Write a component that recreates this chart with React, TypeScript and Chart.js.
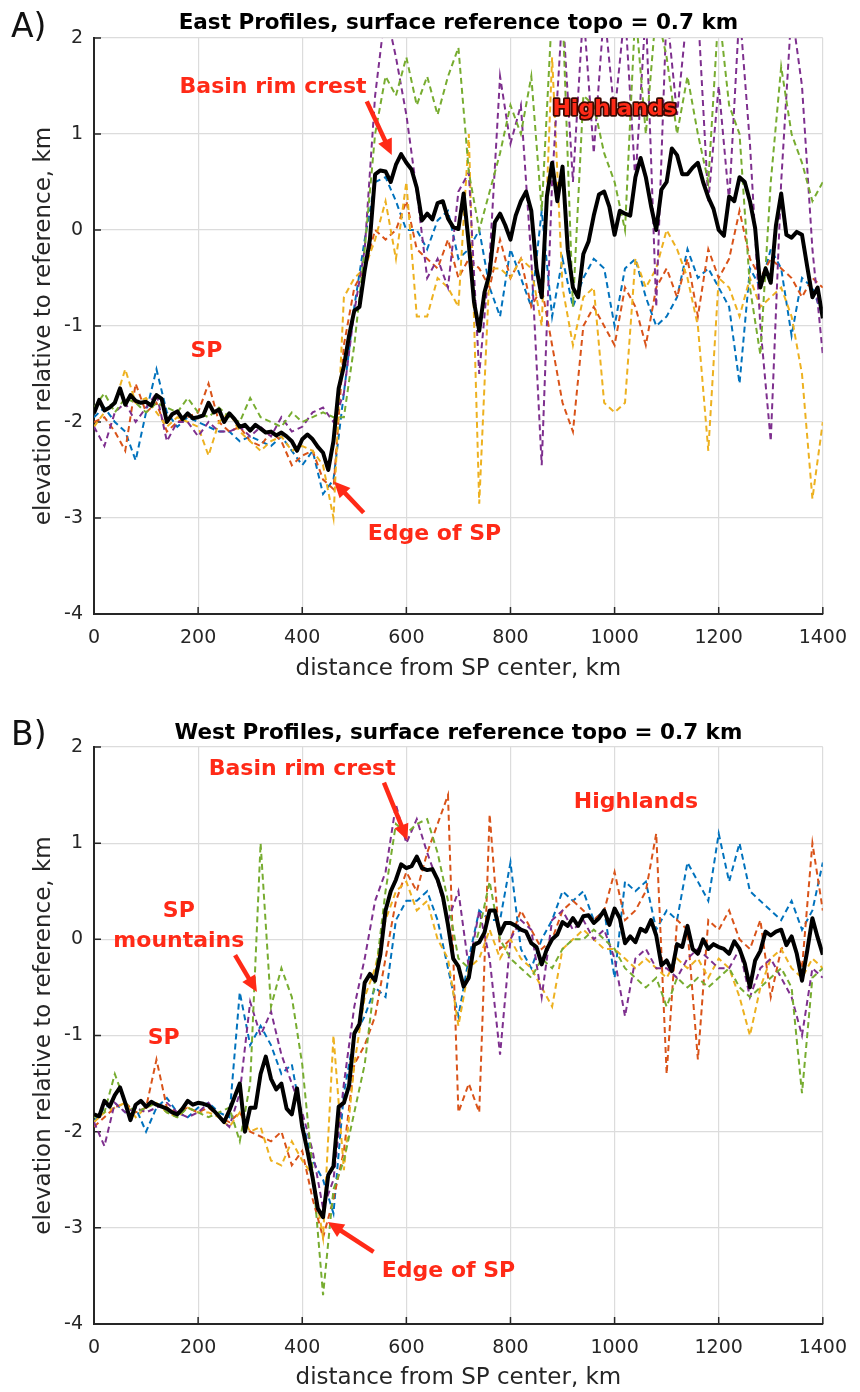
import React, { useEffect, useRef } from 'react';
import { Chart, registerables } from 'chart.js';
Chart.register(...registerables);

// ---------- distances (km) ----------
const DIST_10 = [
  0,10,20,30,40,50,60,70,80,90,100,110,120,130,140,150,160,170,180,190,
  200,210,220,230,240,250,260,270,280,290,300,310,320,330,340,350,360,370,380,390,
  400,410,420,430,440,450,460,470,480,490,500,510,520,530,540,550,560,570,580,590,
  600,610,620,630,640,650,660,670,680,690,700,710,720,730,740,750,760,770,780,790,
  800,810,820,830,840,850,860,870,880,890,900,910,920,930,940,950,960,970,980,990,
  1000,1010,1020,1030,1040,1050,1060,1070,1080,1090,1100,1110,1120,1130,1140,1150,1160,1170,1180,1190,
  1200,1210,1220,1230,1240,1250,1260,1270,1280,1290,1300,1310,1320,1330,1340,1350,1360,1370,1380,1390,
  1400,
];
const DIST_20 = [
  0,20,40,60,80,100,120,140,160,180,200,220,240,260,280,300,320,340,360,380,
  400,420,440,460,480,500,520,540,560,580,600,620,640,660,680,700,720,740,760,780,
  800,820,840,860,880,900,920,940,960,980,1000,1020,1040,1060,1080,1100,1120,1140,1160,1180,
  1200,1220,1240,1260,1280,1300,1320,1340,1360,1380,1400,
];

const X_TICKS = [0, 200, 400, 600, 800, 1000, 1200, 1400];
const Y_TICKS = [-4, -3, -2, -1, 0, 1, 2];

// ---------- Panel A (East) ----------
const EAST_MEAN = [
  -1.91,-1.77,-1.88,-1.85,-1.80,-1.65,-1.82,-1.72,-1.78,-1.80,
  -1.79,-1.83,-1.72,-1.76,-2.00,-1.92,-1.89,-1.97,-1.91,-1.96,
  -1.95,-1.93,-1.80,-1.90,-1.87,-2.00,-1.91,-1.97,-2.05,-2.03,
  -2.09,-2.03,-2.07,-2.11,-2.10,-2.14,-2.11,-2.15,-2.20,-2.30,
  -2.18,-2.13,-2.18,-2.26,-2.32,-2.50,-2.20,-1.65,-1.42,-1.10,
  -0.84,-0.80,-0.42,-0.10,0.58,0.62,0.61,0.50,0.68,0.79,
  0.70,0.63,0.44,0.10,0.17,0.11,0.28,0.30,0.12,0.03,
  0.01,0.38,-0.15,-0.75,-1.05,-0.65,-0.45,0.08,0.17,0.05,
  -0.10,0.15,0.30,0.40,0.20,-0.40,-0.70,0.35,0.70,0.30,
  0.66,-0.20,-0.60,-0.70,-0.25,-0.12,0.15,0.37,0.40,0.24,
  -0.05,0.20,0.17,0.15,0.55,0.75,0.55,0.25,0.00,0.42,
  0.50,0.85,0.78,0.58,0.58,0.65,0.70,0.50,0.34,0.22,
  0.00,-0.06,0.35,0.30,0.55,0.50,0.30,0.02,-0.60,-0.40,
  -0.55,0.05,0.38,-0.05,-0.08,-0.02,-0.05,-0.38,-0.70,-0.60,
  -0.92,
];
const EAST_BLUE = [
  -1.95,-1.85,-2.0,-2.1,-2.4, -1.9,-1.45,-1.9,-2.05,-1.95,
  -2.0,-2.05,-2.1,-2.1,-2.2, -2.15,-2.2,-2.25,-2.15,-2.3,
  -2.45,-2.3,-2.75,-2.6,-1.7, -0.8,-0.1,0.5,0.55,0.3,
  0.0,0.0,-0.2,0.1,0.2, -0.3,-0.2,0.0,-0.6,-0.9,
  -0.2,-0.5,-0.8,0.2,-0.9, -0.3,-0.8,-0.5,-0.3,-0.4,
  -1.0,-0.4,-0.3,-0.7,-1.0, -0.9,-0.7,-0.2,-0.5,-0.4,
  -0.6,-0.8,-1.6,-0.4,-0.6, -0.2,-0.4,-1.1,-0.5,-0.6,
  -0.9,
];
const EAST_ORANGE = [
  -2.0,-1.95,-2.1,-2.3,-1.6, -1.9,-1.8,-2.1,-2.0,-1.95,
  -1.9,-1.6,-2.0,-2.1,-2.05, -2.2,-2.25,-2.1,-2.2,-2.45,
  -2.35,-2.3,-2.6,-2.7,-1.2, -0.6,-0.4,0.0,-0.1,0.0,
  0.3,-0.2,-0.3,-0.4,-0.1, -0.5,-0.3,-0.4,-0.6,-0.1,
  -0.5,-0.3,-0.8,-0.6,-1.2, -1.8,-2.1,-1.0,-0.8,-1.0,
  -1.2,-0.6,-0.8,-1.2,-0.6, -0.4,-0.7,-0.3,-0.9,-0.2,
  -0.5,-0.3,0.2,-0.3,-0.5, -0.3,-0.4,-0.5,-0.7,-0.5,
  -0.6,
];
const EAST_YELLOW = [
  -2.05,-1.9,-1.8,-1.45,-1.8, -1.75,-1.9,-2.05,-1.95,-2.0,
  -2.05,-2.35,-2.0,-1.9,-2.1, -2.2,-2.3,-2.2,-2.15,-2.3,
  -2.25,-2.3,-2.45,-3.0,-0.7, -0.5,-0.4,-0.1,0.3,-0.3,
  0.5,-0.9,-0.9,-0.5,-0.6, -0.8,1.0,-2.85,-0.4,-0.4,
  -0.5,-0.3,-0.4,-1.0,1.8, -0.6,-1.2,-0.7,-0.6,-1.8,
  -1.9,-1.8,-0.3,-0.6,-0.4, 0.0,-0.2,-0.5,-1.0,-2.3,
  -0.5,-0.6,-0.9,-0.5,-0.8, -0.7,-0.6,-0.9,-1.5,-2.8,
  -2.0,
];
const EAST_PURPLE = [
  -2.05,-2.25,-1.9,-1.8,-2.0, -1.85,-1.7,-2.2,-2.0,-2.0,
  -2.15,-2.0,-2.1,-2.1,-2.05, -2.15,-2.05,-2.15,-1.95,-2.1,
  -2.05,-1.9,-1.85,-2.0,-1.7, -0.85,-0.2,1.4,2.3,1.8,
  1.2,0.4,-0.5,-0.3,-0.6, 0.4,0.6,-1.5,-0.3,1.6,
  0.9,1.3,-0.3,-2.45,0.5, 2.3,0.5,2.3,0.8,2.3,
  1.2,2.3,0.5,2.3,-0.8, 2.3,1.2,2.3,2.3,0.3,
  1.5,0.3,2.3,0.9,-1.0, -2.2,0.5,2.3,1.5,-0.2,
  -1.3,
];
const EAST_GREEN = [
  -1.85,-1.7,-1.9,-1.75,-1.8, -1.9,-1.8,-1.85,-1.9,-1.75,
  -1.9,-1.95,-1.85,-1.95,-2.0, -1.75,-1.95,-2.0,-2.05,-1.9,
  -2.0,-1.95,-1.9,-1.95,-1.95, -1.2,-0.2,1.0,1.6,1.4,
  1.8,1.3,1.6,1.2,1.6, 1.9,0.6,0.0,0.4,0.8,
  1.3,1.0,1.6,0.2,2.3, 2.3,-0.8,1.4,1.3,0.8,
  0.5,0.0,2.3,1.0,2.3, 1.8,1.0,1.6,1.0,0.5,
  2.3,1.3,1.0,-0.6,-1.3, 0.5,1.7,1.0,0.7,0.3,
  0.5,
];

// ---------- Panel B (West) ----------
const WEST_MEAN = [
  -1.82,-1.84,-1.68,-1.74,-1.62,-1.54,-1.70,-1.88,-1.72,-1.68,
  -1.74,-1.69,-1.72,-1.74,-1.76,-1.80,-1.82,-1.76,-1.68,-1.72,
  -1.70,-1.71,-1.73,-1.78,-1.84,-1.90,-1.78,-1.64,-1.50,-2.00,
  -1.75,-1.75,-1.40,-1.22,-1.45,-1.56,-1.50,-1.76,-1.82,-1.55,
  -1.95,-2.20,-2.48,-2.80,-2.89,-2.45,-2.36,-1.74,-1.70,-1.52,
  -0.98,-0.88,-0.45,-0.36,-0.43,-0.16,0.30,0.50,0.62,0.78,
  0.74,0.76,0.86,0.74,0.72,0.73,0.62,0.45,0.15,-0.20,
  -0.28,-0.49,-0.40,-0.06,-0.03,0.07,0.30,0.30,0.06,0.17,
  0.17,0.14,0.10,0.08,-0.04,-0.08,-0.26,-0.10,0.00,0.05,
  0.18,0.14,0.22,0.14,0.24,0.25,0.17,0.22,0.30,0.15,
  0.32,0.22,-0.04,0.03,-0.03,0.11,0.08,0.20,0.04,-0.27,
  -0.22,-0.33,-0.05,-0.08,0.14,-0.10,-0.15,0.00,-0.10,-0.05,
  -0.08,-0.10,-0.15,-0.02,-0.10,-0.25,-0.50,-0.22,-0.12,0.08,
  0.04,0.08,0.10,-0.06,0.03,-0.15,-0.43,-0.12,0.22,0.02,
  -0.16,
];
const WEST_BLUE = [
  -1.9,-1.75,-1.7,-1.8,-1.75, -2.0,-1.75,-1.65,-1.8,-1.85,
  -1.75,-1.7,-1.8,-1.85,-0.55, -1.1,-0.9,-1.1,-1.4,-1.3,
  -1.9,-2.3,-2.5,-2.85,-1.6, -1.0,-0.8,-0.5,-0.6,0.2,
  0.4,0.4,0.5,0.2,-0.3, -0.8,-0.2,0.3,0.2,0.2,
  0.8,-0.1,-0.3,0.0,0.2, 0.5,0.4,0.5,0.2,0.3,
  -0.4,0.6,0.5,0.6,0.1, 0.3,0.2,0.8,0.6,0.4,
  1.1,0.6,1.0,0.5,0.4, 0.3,0.2,0.4,0.1,0.3,
  0.8,
];
const WEST_ORANGE = [
  -1.95,-1.85,-1.75,-1.7,-1.8, -1.75,-1.25,-1.75,-1.8,-1.75,
  -1.8,-1.75,-1.85,-1.9,-1.8, -2.0,-2.05,-2.1,-2.0,-2.35,
  -2.2,-2.7,-3.1,-2.7,-2.2, -1.3,-1.1,-0.8,-0.2,0.4,
  0.7,0.5,0.9,1.2,1.5, -1.8,-1.5,-1.8,1.3,-0.1,
  0.0,0.3,0.1,-0.1,0.0, 0.3,0.4,0.3,0.2,0.3,
  0.7,0.2,0.3,0.5,1.1, -1.4,0.2,0.1,-1.25,0.2,
  0.1,0.3,0.0,-0.1,0.2, -0.6,-0.1,0.0,-0.3,1.0,
  0.3,
];
const WEST_YELLOW = [
  -1.9,-1.8,-1.75,-1.7,-1.85, -1.75,-1.7,-1.8,-1.85,-1.75,
  -1.8,-1.8,-1.85,-1.95,-1.8, -2.0,-1.95,-2.3,-2.35,-2.1,
  -2.3,-2.45,-3.1,-1.0,-2.4, -1.3,-0.6,-0.3,0.2,0.5,
  0.6,0.3,0.4,0.0,-0.2, -0.9,-0.3,-0.2,0.1,-0.2,
  0.0,-0.2,-0.3,-0.5,-0.7, -0.1,0.0,0.1,0.0,-0.1,
  -0.1,-0.2,-0.3,-0.2,-0.3, -0.4,-0.2,-0.3,-0.2,-0.4,
  -0.2,-0.3,-0.6,-1.0,-0.5, -0.2,-0.1,-0.3,-0.4,-0.2,
  -0.3,
];
const WEST_PURPLE = [
  -1.9,-2.15,-1.7,-1.8,-1.75, -1.8,-1.75,-1.7,-1.8,-1.85,
  -1.8,-1.7,-1.85,-1.95,-1.6, -0.65,-1.0,-0.75,-1.2,-1.5,
  -1.8,-2.2,-2.8,-2.5,-1.5, -0.7,-0.2,0.4,0.7,1.4,
  1.0,1.25,0.9,0.6,0.2, 0.5,-0.3,0.3,-0.2,-1.2,
  0.0,0.2,0.1,-0.6,0.2, 0.3,0.1,0.2,0.0,0.1,
  -0.2,-0.8,-0.2,-0.1,-0.3, -0.3,-0.4,-0.2,-0.1,-0.2,
  -0.3,-0.3,-0.1,-0.6,-0.3, -0.2,-0.4,-0.6,-1.0,-0.3,
  -0.4,
];
const WEST_GREEN = [
  -1.85,-1.8,-1.4,-1.7,-1.8, -1.75,-1.7,-1.8,-1.85,-1.75,
  -1.8,-1.85,-1.8,-1.75,-2.1, -1.5,1.0,-0.7,-0.3,-0.6,
  -1.3,-2.4,-3.7,-2.6,-2.3, -1.8,-1.3,-0.4,0.5,1.2,
  1.1,1.2,1.25,0.9,0.4, -0.2,-0.3,0.1,0.6,0.0,
  -0.2,-0.3,-0.4,-0.2,-0.3, -0.1,0.0,0.0,0.1,0.0,
  -0.1,-0.3,-0.4,-0.5,-0.4, -0.7,-0.4,-0.5,-0.4,-0.5,
  -0.4,-0.3,-0.5,-0.6,-0.5, -0.4,-0.3,-0.5,-1.6,-0.4,
  -0.3,
];

// ---------- styling ----------
const FONT = '"DejaVu Sans", "Liberation Sans", Arial, sans-serif';
const RED = '#ff2a17';
const AXIS = '#262626';
const GRID = '#dcdcdc';
const COLORS = {
  blue: '#0072BD',
  orange: '#D95319',
  yellow: '#EDB120',
  purple: '#7E2F8E',
  green: '#77AC30',
};

type Label = { text: string; x: number; y: number; outline?: boolean };
type Arrow = { x1: number; y1: number; x2: number; y2: number };

type Panel = {
  letter: string;
  title: string;
  titleBaseline: number;
  letterBaseline: number;
  padTop: number;
  padBottom: number;
  xAxisHeight: number;
  mean: number[];
  blue: number[];
  orange: number[];
  yellow: number[];
  purple: number[];
  green: number[];
  labels: Label[];
  arrows: Arrow[];
};

const PANELS: Panel[] = [
  {
    letter: 'A)',
    title: 'East Profiles, surface reference topo = 0.7 km',
    titleBaseline: 29,
    letterBaseline: 37,
    padTop: 38,
    padBottom: 13,
    xAxisHeight: 69,
    mean: EAST_MEAN,
    blue: EAST_BLUE,
    orange: EAST_ORANGE,
    yellow: EAST_YELLOW,
    purple: EAST_PURPLE,
    green: EAST_GREEN,
    labels: [
      { text: 'Basin rim crest', x: 344, y: 1.43 },
      { text: 'Highlands', x: 1000, y: 1.2, outline: true },
      { text: 'SP', x: 216, y: -1.32 },
      { text: 'Edge of SP', x: 654, y: -3.23 },
    ],
    arrows: [
      { x1: 524, y1: 1.34, x2: 572, y2: 0.78 },
      { x1: 518, y1: -2.945, x2: 461, y2: -2.62 },
    ],
  },
  {
    letter: 'B)',
    title: 'West Profiles, surface reference topo = 0.7 km',
    titleBaseline: 43,
    letterBaseline: 49,
    padTop: 51,
    padBottom: 0,
    xAxisHeight: 68,
    mean: WEST_MEAN,
    blue: WEST_BLUE,
    orange: WEST_ORANGE,
    yellow: WEST_YELLOW,
    purple: WEST_PURPLE,
    green: WEST_GREEN,
    labels: [
      { text: 'Basin rim crest', x: 400, y: 1.71 },
      { text: 'Highlands', x: 1041, y: 1.366 },
      { text: 'SP', x: 163, y: 0.235 },
      { text: 'mountains', x: 163, y: -0.075 },
      { text: 'SP', x: 134, y: -1.087 },
      { text: 'Edge of SP', x: 681, y: -3.51 },
    ],
    arrows: [
      { x1: 557, y1: 1.63, x2: 602, y2: 1.03 },
      { x1: 271, y1: -0.165, x2: 313, y2: -0.547 },
      { x1: 537, y1: -3.25, x2: 449, y2: -2.94 },
    ],
  },
];

function drawArrow(ctx: CanvasRenderingContext2D, x1: number, y1: number, x2: number, y2: number) {
  const ang = Math.atan2(y2 - y1, x2 - x1);
  const headLen = 16;
  const headW = 7.5;
  const bx = x2 - headLen * Math.cos(ang);
  const by = y2 - headLen * Math.sin(ang);
  ctx.save();
  ctx.strokeStyle = RED;
  ctx.fillStyle = RED;
  ctx.lineWidth = 4.5;
  ctx.lineCap = 'butt';
  ctx.beginPath();
  ctx.moveTo(x1, y1);
  ctx.lineTo(bx + Math.cos(ang), by + Math.sin(ang));
  ctx.stroke();
  ctx.beginPath();
  ctx.moveTo(x2, y2);
  ctx.lineTo(bx + headW * Math.sin(ang), by - headW * Math.cos(ang));
  ctx.lineTo(bx - headW * Math.sin(ang), by + headW * Math.cos(ang));
  ctx.closePath();
  ctx.fill();
  ctx.restore();
}

function makePlugin(panel: Panel) {
  return {
    id: 'panelDecor',
    beforeDatasetsDraw(chart: any) {
      const ctx: CanvasRenderingContext2D = chart.ctx;
      const { left, bottom } = chart.chartArea;
      const xs = chart.scales.x;
      const ys = chart.scales.y;
      ctx.save();
      ctx.strokeStyle = AXIS;
      ctx.lineWidth = 1.5;
      ctx.beginPath();
      xs.ticks.forEach((t: any) => {
        const px = xs.getPixelForValue(t.value);
        ctx.moveTo(px, bottom);
        ctx.lineTo(px, bottom - 7);
      });
      ys.ticks.forEach((t: any) => {
        const py = ys.getPixelForValue(t.value);
        ctx.moveTo(left, py);
        ctx.lineTo(left + 7, py);
      });
      ctx.stroke();
      ctx.restore();
    },
    afterDatasetsDraw(chart: any) {
      const ctx: CanvasRenderingContext2D = chart.ctx;
      const xs = chart.scales.x;
      const ys = chart.scales.y;
      ctx.save();
      ctx.textAlign = 'center';
      ctx.textBaseline = 'alphabetic';
      ctx.font = `bold 22px ${FONT}`;
      panel.labels.forEach((l) => {
        const px = xs.getPixelForValue(l.x);
        const py = ys.getPixelForValue(l.y);
        if (l.outline) {
          ctx.lineWidth = 3.5;
          ctx.lineJoin = 'round';
          ctx.strokeStyle = '#3a0800';
          ctx.strokeText(l.text, px, py);
        }
        ctx.fillStyle = RED;
        ctx.fillText(l.text, px, py);
      });
      panel.arrows.forEach((a) => {
        drawArrow(
          ctx,
          xs.getPixelForValue(a.x1),
          ys.getPixelForValue(a.y1),
          xs.getPixelForValue(a.x2),
          ys.getPixelForValue(a.y2)
        );
      });
      ctx.restore();
    },
    afterDraw(chart: any) {
      const ctx: CanvasRenderingContext2D = chart.ctx;
      const { left, right } = chart.chartArea;
      ctx.save();
      ctx.fillStyle = '#000';
      ctx.textBaseline = 'alphabetic';
      ctx.textAlign = 'center';
      ctx.font = `bold 21.5px ${FONT}`;
      ctx.fillText(panel.title, (left + right) / 2, panel.titleBaseline);
      ctx.textAlign = 'left';
      ctx.font = `33px ${FONT}`;
      ctx.fillStyle = '#111';
      ctx.fillText(panel.letter, 11, panel.letterBaseline);
      ctx.restore();
    },
  };
}

function dashed(xs: number[], ys: number[], color: string) {
  return {
    data: xs.map((x, i) => ({ x, y: ys[i] })),
    borderColor: color,
    borderWidth: 2,
    borderDash: [6, 4],
    pointRadius: 0,
    fill: false,
    tension: 0,
  };
}

function PanelChart({ panel }: { panel: Panel }) {
  const ref = useRef<HTMLCanvasElement | null>(null);
  useEffect(() => {
    if (!ref.current) return;
    const tickFont = { family: FONT, size: 19 };
    const titleFont = { family: FONT, size: 23 };
    const chart = new Chart(ref.current, {
      type: 'line',
      data: {
        datasets: [
          {
            data: DIST_10.map((x, i) => ({ x, y: panel.mean[i] })),
            borderColor: '#000000',
            borderWidth: 4,
            pointRadius: 0,
            fill: false,
            tension: 0,
            borderJoinStyle: 'round',
          } as any,
          dashed(DIST_20, panel.green, COLORS.green),
          dashed(DIST_20, panel.purple, COLORS.purple),
          dashed(DIST_20, panel.yellow, COLORS.yellow),
          dashed(DIST_20, panel.orange, COLORS.orange),
          dashed(DIST_20, panel.blue, COLORS.blue),
        ],
      },
      options: {
        animation: false,
        responsive: false,
        events: [],
        layout: { padding: { top: panel.padTop, right: 34, bottom: panel.padBottom, left: 0 } },
        plugins: {
          legend: { display: false },
          tooltip: { enabled: false },
          title: { display: false },
        },
        scales: {
          x: {
            type: 'linear',
            min: 0,
            max: 1400,
            afterBuildTicks: (s: any) => {
              s.ticks = X_TICKS.map((v) => ({ value: v }));
            },
            ticks: {
              font: tickFont,
              color: AXIS,
              padding: 13,
              maxRotation: 0,
              autoSkip: false,
              callback: (v: any) => String(v),
            },
            grid: { color: GRID, lineWidth: 1.2, drawTicks: false },
            border: { display: true, color: AXIS, width: 2 },
            title: {
              display: true,
              text: 'distance from SP center, km',
              font: titleFont,
              color: AXIS,
              padding: { top: 0, bottom: 0 },
            },
            afterFit: (s: any) => {
              s.height = panel.xAxisHeight;
            },
          },
          y: {
            type: 'linear',
            min: -4,
            max: 2,
            afterBuildTicks: (s: any) => {
              s.ticks = Y_TICKS.map((v) => ({ value: v }));
            },
            ticks: { font: tickFont, color: AXIS, padding: 11, callback: (v: any) => String(v) },
            grid: { color: GRID, lineWidth: 1.2, drawTicks: false },
            border: { display: true, color: AXIS, width: 2 },
            title: {
              display: true,
              text: 'elevation relative to reference, km',
              font: titleFont,
              color: AXIS,
              padding: { top: 30, bottom: 0 },
            },
            afterFit: (s: any) => {
              s.width = 94;
            },
          },
        },
      } as any,
      plugins: [makePlugin(panel)],
    });
    return () => chart.destroy();
  }, [panel]);
  return <canvas ref={ref} width={860} height={696} style={{ display: 'block', width: 860, height: 696 }} />;
}

export default function App() {
  return (
    <div style={{ position: 'absolute', left: 0, top: 0, width: 860, height: 1392, background: '#fff' }}>
      {PANELS.map((p) => (
        <PanelChart key={p.letter} panel={p} />
      ))}
    </div>
  );
}
